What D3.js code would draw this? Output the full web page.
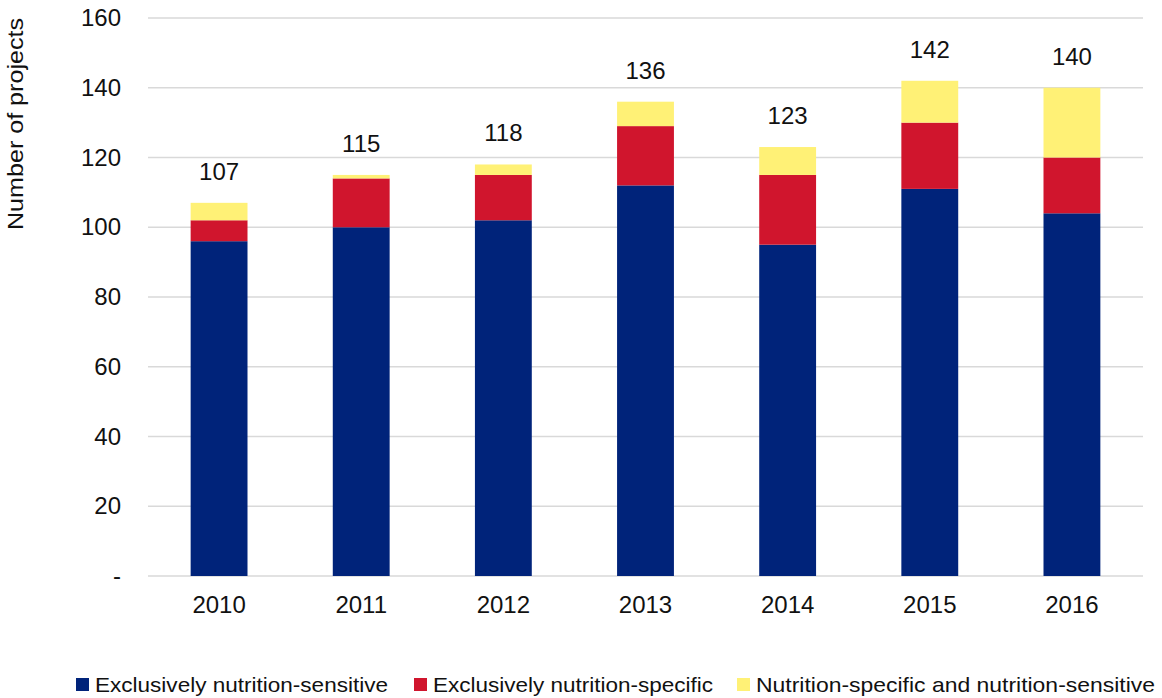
<!DOCTYPE html>
<html>
<head>
<meta charset="utf-8">
<script src="https://cdn.jsdelivr.net/npm/d3@7"></script>
<style>
  html, body { margin: 0; padding: 0; background: #fff; }
  svg { display: block; font-family: "Liberation Sans", Arial, sans-serif; }
</style>
</head>
<body>
<svg id="chart" width="1162" height="698"></svg>
<script>
// Nutrition projects per year, split by type
const years = ["2010", "2011", "2012", "2013", "2014", "2015", "2016"];
const sensitive = [96, 100, 102, 112, 95, 111, 104];
const specific = [6, 14, 13, 17, 20, 19, 16];
const both = [5, 1, 3, 7, 8, 12, 20];
const totals = [107, 115, 118, 136, 123, 142, 140];
const seriesNames = ["Exclusively nutrition-sensitive", "Exclusively nutrition-specific", "Nutrition-specific and nutrition-sensitive"];
const seriesColors = ["#00237A", "#D0152D", "#FFF176"];
const yTicks = [0, 20, 40, 60, 80, 100, 120, 140, 160];

const svg = d3.select("#chart");
const margin = { left: 148, right: 19, top: 18, bottom: 122 };
const W = 1162, H = 698;
const FONT = "Liberation Sans, Arial, sans-serif";
const x = d3.scaleBand().domain(years).range([margin.left, W - margin.right]).paddingInner(0.6).paddingOuter(0.3);
const y = d3.scaleLinear().domain([0, 160]).range([H - margin.bottom, margin.top]);

// gridlines
svg.append("g").selectAll("line").data(yTicks).join("line")
  .attr("x1", margin.left).attr("x2", W - margin.right)
  .attr("y1", d => y(d)).attr("y2", d => y(d))
  .attr("stroke", "#d9d9d9").attr("stroke-width", 1.5);

// y axis labels
const yAxis = svg.append("g").attr("transform", "translate(121,0)")
  .call(d3.axisLeft(y).tickValues(yTicks).tickSize(0).tickPadding(0)
    .tickFormat(d => d === 0 ? "-" : d));
yAxis.select(".domain").remove();
yAxis.selectAll("text").attr("font-size", 24).attr("fill", "#111").attr("font-family", FONT);

// stacked bars
const rows = years.map((yr, i) => ({ year: yr, s0: sensitive[i], s1: specific[i], s2: both[i] }));
const stack = d3.stack().keys(["s0", "s1", "s2"])(rows);
svg.append("g").selectAll("g").data(stack).join("g")
  .attr("fill", (d, i) => seriesColors[i])
  .selectAll("rect").data(d => d).join("rect")
  .attr("x", d => x(d.data.year))
  .attr("width", x.bandwidth())
  .attr("y", d => y(d[1]))
  .attr("height", d => y(d[0]) - y(d[1]));

// totals above bars
svg.append("g").selectAll("text").data(years).join("text")
  .attr("x", d => x(d) + x.bandwidth() / 2)
  .attr("y", (d, i) => y(totals[i]) - 23)
  .attr("text-anchor", "middle").attr("font-size", 24).attr("fill", "#111")
  .text((d, i) => totals[i]);

// x axis
const xAxis = svg.append("g").attr("transform", `translate(0,${y(0)})`)
  .call(d3.axisBottom(x).tickSize(0).tickPadding(20));
xAxis.select(".domain").remove();
xAxis.selectAll("text").attr("font-size", 24).attr("fill", "#111").attr("font-family", FONT);

// y axis title
svg.append("text")
  .attr("transform", "translate(23,124) rotate(-90)")
  .attr("text-anchor", "middle").attr("font-size", 22).attr("fill", "#111")
  .attr("textLength", 212).attr("lengthAdjust", "spacingAndGlyphs")
  .text("Number of projects");

// legend
const legendX = [76, 414, 737];
const legendW = [293, 280, 399];
const lg = svg.append("g").selectAll("g").data(seriesNames).join("g")
  .attr("transform", (d, i) => `translate(${legendX[i]},678)`);
lg.append("rect").attr("width", 13).attr("height", 13).attr("fill", (d, i) => seriesColors[i]);
lg.append("text").attr("x", 19).attr("y", 14).attr("font-size", 21).attr("fill", "#111")
  .attr("textLength", (d, i) => legendW[i]).attr("lengthAdjust", "spacingAndGlyphs")
  .text(d => d);
</script>
</body>
</html>
